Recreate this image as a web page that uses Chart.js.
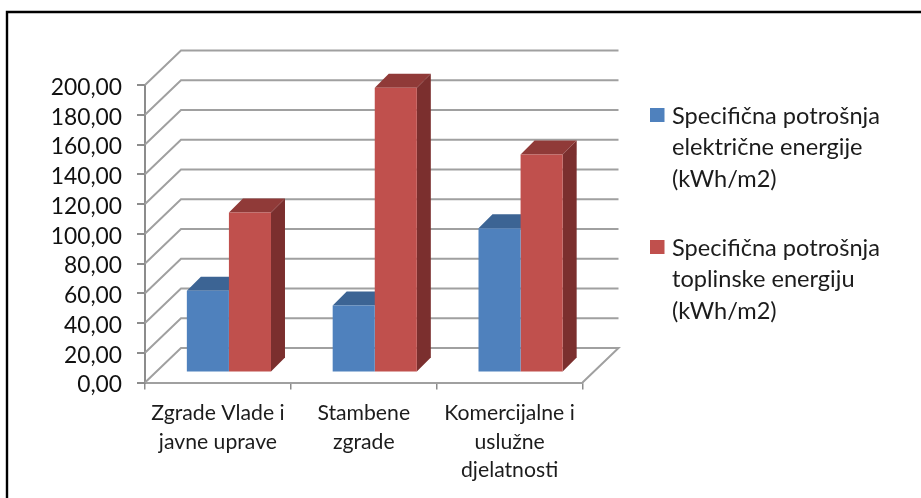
<!DOCTYPE html>
<html><head><meta charset="utf-8">
<style>html,body{margin:0;padding:0;background:#fff}#w{position:absolute;left:0;top:0;width:921px;height:498px}</style>
<script src="https://cdn.jsdelivr.net/npm/chart.js@4"></script>
</head><body><div id="w"><canvas id="c" width="921" height="498"></canvas></div>
<script>
const categories = [["Zgrade Vlade i","javne uprave"],["Stambene","zgrade"],["Komercijalne i","uslužne","djelatnosti"]];
const seriesElectric = [55, 45, 97];
const seriesHeat = [107.5, 191.5, 146.5];
const legendElectric = ["Specifična potrošnja","električne energije","(kWh/m2)"];
const legendHeat = ["Specifična potrošnja","toplinske energiju","(kWh/m2)"];
const FONT = "Lato";
const wallDx = 36, wallDy = 34.5, barShiftX = 11, barShiftY = 10, barDepth = 14;
const GRID = "#a0a0a0";
function shade(ctx, pts, fill){ctx.beginPath();pts.forEach((p,i)=>i?ctx.lineTo(p[0],p[1]):ctx.moveTo(p[0],p[1]));ctx.closePath();ctx.fillStyle=fill;ctx.fill();}
const frame3d = {
  id:"frame3d",
  beforeDraw(chart){
    const c=chart.ctx;
    c.save();c.strokeStyle="#000";c.lineWidth=2.4;
    c.beginPath();c.moveTo(7,498);c.lineTo(7,12);c.lineTo(921,12);c.stroke();
    c.restore();
  },
  beforeDatasetsDraw(chart){
    const c=chart.ctx, y=chart.scales.y, x=chart.scales.x;
    const L=x.left, R=x.right;
    c.save();c.strokeStyle=GRID;c.lineWidth=2;
    y.ticks.forEach(t=>{
      const p=y.getPixelForValue(t.value);
      c.beginPath();c.moveTo(L,p);c.lineTo(L+wallDx,p-wallDy);c.lineTo(R+wallDx,p-wallDy);
      if(t.value===0){c.lineTo(R,p);}
      c.stroke();
    });
    c.restore();
    c.save();c.translate(barShiftX,-barShiftY);
    [0,1].forEach(di=>{
      chart.getDatasetMeta(di).data.forEach(b=>{
        const l=b.x-b.width/2, r=b.x+b.width/2, t=b.y, bt=b.base;
        shade(c,[[l,t],[l+barDepth,t-barDepth],[r+barDepth,t-barDepth],[r,t]],di?"#903a38":"#3c6494");
        if(di===1) shade(c,[[r,t],[r+barDepth,t-barDepth],[r+barDepth,bt-barDepth],[r,bt]],"#7b2f2e");
      });
    });
  },
  afterDatasetsDraw(chart){ chart.ctx.restore(); },
  afterDraw(chart){
    const c=chart.ctx;
    const blocks=[[legendElectric,115],[legendHeat,247]];
    c.save();
    blocks.forEach(([lines,y0],i)=>{
      c.fillStyle=chart.data.datasets[i].backgroundColor;
      c.fillRect(650,y0-7,14.5,14);
      c.fillStyle="#1c1c1c";c.font="23.6px "+FONT;c.textAlign="left";c.textBaseline="middle";
      lines.forEach((s,j)=>c.fillText(s,672,y0+1+j*31.7));
    });
    c.restore();
  }
};
new Chart(document.getElementById("c"),{
  type:"bar",
  data:{labels:categories,datasets:[
    {label:legendElectric.join(" "),data:seriesElectric,backgroundColor:"#4f81bd",categoryPercentage:0.577,barPercentage:1},
    {label:legendHeat.join(" "),data:seriesHeat,backgroundColor:"#c0504d",categoryPercentage:0.577,barPercentage:1}
  ]},
  options:{
    responsive:false,animation:false,
    layout:{padding:{left:0,top:85,right:338.5,bottom:0}},
    plugins:{tooltip:{enabled:false},legend:{display:false}},
    scales:{
      x:{offset:true,afterFit(s){s.height=115.5;},
         grid:{display:true,drawOnChartArea:false,drawTicks:true,tickLength:7,color:"#8c8c8c",lineWidth:1.5,offset:true},border:{color:"#a0a0a0",width:2},
         ticks:{color:"#1c1c1c",font:{family:FONT,size:21.2,lineHeight:1.36},maxRotation:0,autoSkip:false,padding:9}},
      y:{min:0,max:200,afterFit(s){s.width=145;
           if(!s._nudged){s._nudged=true;const orig=s.drawLabels;
             s.drawLabels=function(area){const k=this.ctx;k.save();k.translate(0,2.5);orig.call(this,area);k.restore();};}},
         grid:{display:true,drawOnChartArea:false,drawTicks:true,tickLength:8,color:"#8c8c8c",lineWidth:2},border:{color:"#8c8c8c",width:2},
         ticks:{stepSize:20,autoSkip:false,color:"#111",font:{family:FONT,size:22.8},padding:15,callback:v=>v.toFixed(2).replace(".",",")}}
    }
  },
  plugins:[frame3d]
});
</script></body></html>
